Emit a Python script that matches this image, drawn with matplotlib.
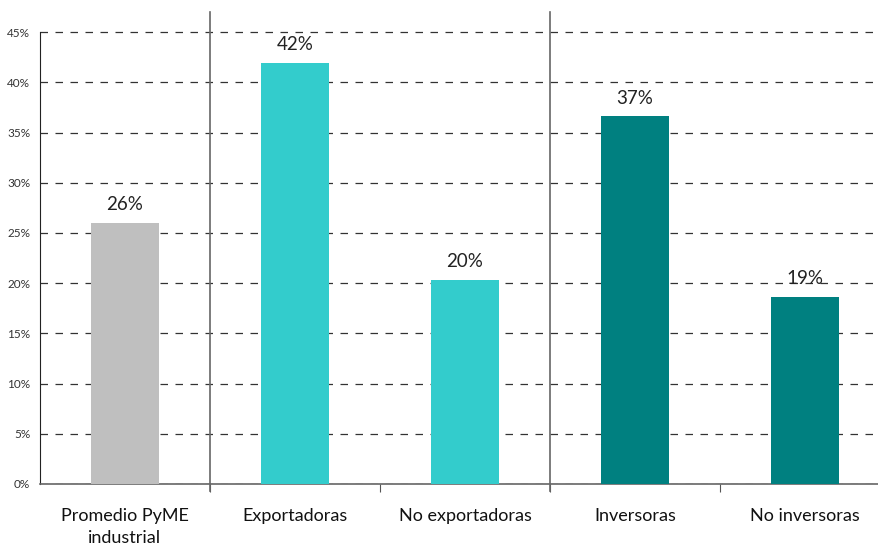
import matplotlib
matplotlib.use("Agg")
import matplotlib.pyplot as plt

categories = ["Promedio PyME\nindustrial", "Exportadoras", "No exportadoras", "Inversoras", "No inversoras"]
values = [26.0, 41.9, 20.3, 36.6, 18.6]
labels = ["26%", "42%", "20%", "37%", "19%"]
colors = ["#BFBFBF", "#33CCCC", "#33CCCC", "#008080", "#008080"]
yticks = [0, 5, 10, 15, 20, 25, 30, 35, 40, 45]

plt.rcParams['font.family'] = ['Lato', 'DejaVu Sans']

fig = plt.figure(figsize=(8.79, 5.5), dpi=100)
W, H = 879, 550
ax = fig.add_axes([40 / W, (550 - 484) / H, 850 / W, (484 - 12) / H])

x = list(range(len(categories)))
ax.bar(x, values, width=0.4, color=colors, zorder=3)
for xi, v, lab in zip(x, values, labels):
    ax.annotate(lab, (xi, v), xytext=(0, 7), textcoords="offset points",
                ha="center", va="bottom", fontsize=13.5, color="#222222", zorder=4)

ax.set_xlim(-0.5, 4.5)
ax.set_ylim(0, 47)
ax.set_yticks(yticks)
ax.set_yticklabels([f"{t}%" for t in yticks], fontsize=8.5, color="#333333")
ax.tick_params(axis="y", length=0, pad=7)
ax.yaxis.grid(True, linestyle=(0, (6, 6)), color="#333333", linewidth=0.9, zorder=1)
ax.set_axisbelow(True)

ax.set_xticks([0.5, 1.5, 2.5, 3.5])
ax.set_xticklabels([])
ax.set_xticks(x, minor=True)
ax.set_xticklabels(categories, minor=True, fontsize=13, color="#111111", linespacing=1.5)
ax.tick_params(axis="x", which="major", length=6, color="#555555", direction="out")
ax.tick_params(axis="x", which="minor", length=0, pad=17)

for s in ["top", "right"]:
    ax.spines[s].set_visible(False)
ax.spines["left"].set_color("#222222")
ax.spines["left"].set_bounds(0, 45)
ax.spines["bottom"].set_color("#666666")
ax.spines["bottom"].set_linewidth(1.2)

for xs in [0.5, 2.5]:
    ax.axvline(xs, ymin=-0.015, ymax=1, color="#666666", linewidth=1.2, zorder=2, clip_on=False)

fig.savefig("out.png", dpi=100)
